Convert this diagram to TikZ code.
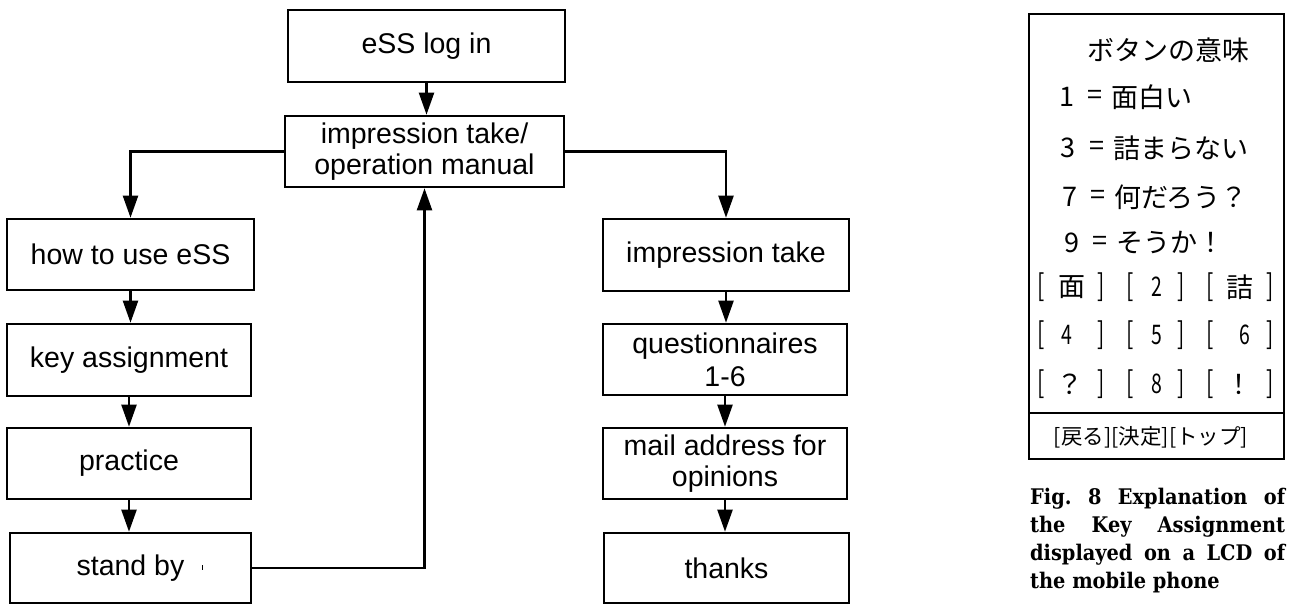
\documentclass[tikz,border=0pt]{standalone}
\usepackage{fontspec}
\setmainfont{Liberation Sans}
\newfontfamily\jp{Noto Sans CJK JP}
\newfontfamily\jpn[FakeStretch=0.72]{Noto Sans CJK JP}
\newfontfamily\capfont[FakeStretch=0.9]{DejaVu Serif}
\usetikzlibrary{arrows.meta}

\tikzset{
  stepbox/.style={draw, line width=2.6pt, inner sep=0pt, align=center,
    font=\fontsize{28.5}{30.5}\selectfont},
  flow/.style={line width=2.2pt, -{Triangle[length=22pt,width=15pt]}},
  panel/.style={line width=2.6pt},
  jptext/.style={inner sep=0pt, font=\jp\fontsize{27}{27}\selectfont},
  jpnum/.style={inner sep=0pt, font=\jpn\fontsize{27}{27}\selectfont},
  jpbrk/.style={inner sep=0pt, font=\jpn\fontsize{30}{30}\selectfont},
  jpsmall/.style={inner sep=0pt, font=\jp\fontsize{21.5}{21.5}\selectfont},
  caption/.style={inner sep=0pt, anchor=base west,
    font=\capfont\bfseries\fontsize{21.5}{21.5}\selectfont},
}

\begin{document}
\frenchspacing
\begin{tikzpicture}[x=1pt,y=-1pt]
\useasboundingbox (0,0) rectangle (1289,604);

% main flow
\node[stepbox, minimum width=277pt, minimum height=72pt] (ess) at (426.5,46) {eSS log in};
\node[stepbox, minimum width=279pt, minimum height=71pt] (op) at (424.5,151.5) {impression take/\\operation manual};

% left branch
\node[stepbox, minimum width=247pt, minimum height=71pt] (how) at (130.5,254.5) {how to use eSS};
\node[stepbox, minimum width=244pt, minimum height=72pt] (key) at (129,360) {key assignment};
\node[stepbox, minimum width=244pt, minimum height=71pt] (prac) at (129,463.5) {practice};
\node[stepbox, minimum width=241pt, minimum height=70pt] (stand) at (130.5,568) {stand by};
\coordinate (tick) at (202,565);
\draw[line width=1pt] (tick) -- ++(0,5);

% right branch
\node[stepbox, minimum width=246pt, minimum height=72pt] (imp) at (726,255) {impression take};
\node[stepbox, minimum width=244pt, minimum height=71pt, font=\fontsize{28.5}{33}\selectfont] (quest) at (725,359.5) {questionnaires\\1-6};
\node[stepbox, minimum width=244pt, minimum height=71pt] (mail) at (725,463.5) {mail address for\\opinions};
\node[stepbox, minimum width=245pt, minimum height=70pt] (thanks) at (726.5,568) {thanks};

% connectors
\draw[flow] (ess.south) -- (ess.south |- op.north);
\draw[flow] (op.west) -| (how.north);
\draw[flow] (op.east) -| (imp.north);
\draw[flow] (how.south) -- (how.south |- key.north);
\draw[flow] (key.south) -- (key.south |- prac.north);
\draw[flow] (prac.south) -- (prac.south |- stand.north);
\draw[flow] (stand.east) -| (op.south);
\draw[flow] (imp.south) -- (imp.south |- quest.north);
\draw[flow] (quest.south) -- (quest.south |- mail.north);
\draw[flow] (mail.south) -- (mail.south |- thanks.north);

% key legend panel
\draw[panel] (1029,14) rectangle (1284,459);
\draw[panel] (1029,413) -- (1284,413);
\node[jptext, anchor=west] (ttl) at (1087,50) {ボタンの意味};
\foreach \d/\dx/\ex/\tx/\y in {1/1067/1095/面白い/97, 3/1068/1097/詰まらない/148,
                               7/1070/1098/何だろう？/197, 9/1072/1100/そうか！/243}{
  \node[jptext] (n\d) at (\dx,\y) {\d};
  \node[jptext] (e\d) at (\ex,\y) {=};
  \node[jptext, anchor=west] (t\d) at (\ex+16,\y) {\tx};
}
% keypad rows: brackets and keys
\foreach \y in {287,335,384}{
  \node[jpbrk] at (1041,\y) {[};
  \node[jpbrk] at (1101,\y) {]};
  \node[jpbrk] at (1130,\y) {[};
  \node[jpbrk] at (1181,\y) {]};
  \node[jpbrk] at (1210,\y) {[};
  \node[jpbrk] at (1270,\y) {]};
}
\node[jptext] (k1) at (1072,287) {面};
\node[jpnum]  (k2) at (1157,287) {2};
\node[jptext] (k3) at (1240,287) {詰};
\node[jpnum]  (k4) at (1067,335) {4};
\node[jpnum]  (k5) at (1157,335) {5};
\node[jpnum]  (k6) at (1245,335) {6};
\node[jptext] (k7) at (1070,384) {？};
\node[jpnum]  (k8) at (1157,384) {8};
\node[jptext] (k9) at (1239,384) {！};
\node[jpsmall] (nav) at (1151,437) {[戻る][決定][トップ]};

% figure caption
\node[caption] (c1) at (1030,504) {\makebox[255pt][s]{Fig. 8 Explanation of}};
\node[caption] (c2) at (1030,532) {\makebox[255pt][s]{the Key Assignment}};
\node[caption] (c3) at (1030,560) {\makebox[255pt][s]{displayed on a LCD of}};
\node[caption] (c4) at (1030,588) {the mobile phone};
\end{tikzpicture}
\end{document}
